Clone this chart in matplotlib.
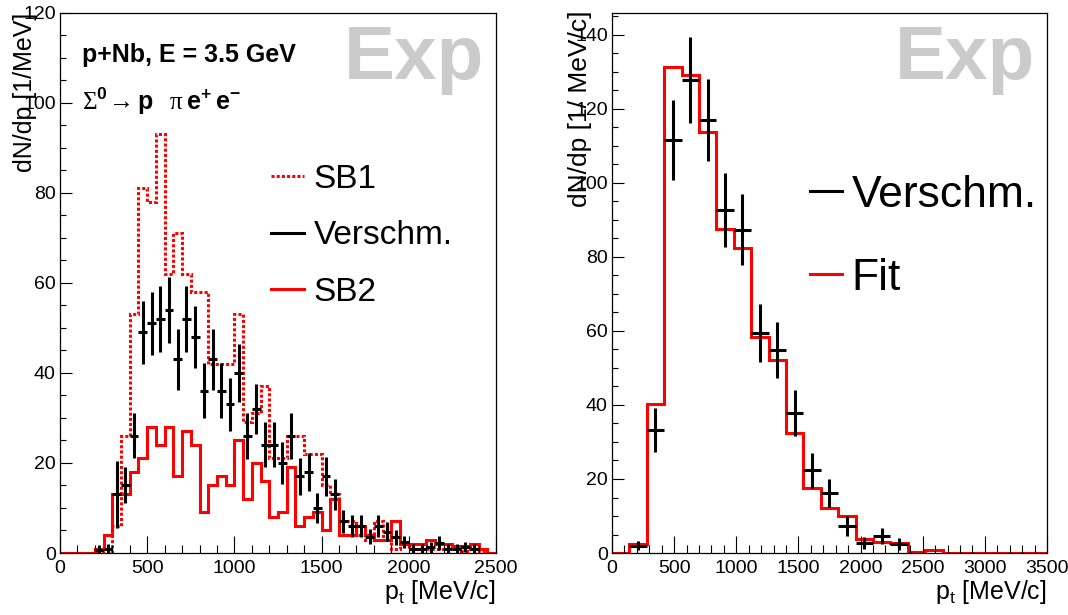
import numpy as np
import matplotlib.pyplot as plt
from matplotlib.ticker import MultipleLocator

plt.rcParams['font.family'] = ['Liberation Sans', 'DejaVu Sans']
plt.rcParams['mathtext.fontset'] = 'custom'
plt.rcParams['mathtext.rm'] = 'Liberation Serif'
plt.rcParams['mathtext.bf'] = 'Liberation Sans:bold'
plt.rcParams['mathtext.sf'] = 'Liberation Sans'

# left panel: 50 MeV bins from 0 to 2500
left_edges = np.arange(0, 2501, 50)
sb1 = [0, 0, 0, 0, 0, 0, 6, 26, 53, 81, 78, 93, 62, 71, 62, 58, 58, 42, 42, 42,
       53, 29, 31, 37, 21, 21, 26, 26, 22, 22, 15, 13, 7, 7, 4, 3, 7, 3, 1, 2,
       1, 1, 1, 1, 1, 1, 0.5, 1, 0.5, 0]
sb2 = [0, 0, 0, 0, 1, 4, 13, 13, 18, 21, 28, 24, 28, 17, 27, 24, 9, 15, 17, 15,
       25, 12, 20, 16, 8, 9, 19, 6, 8, 9, 5, 12, 4, 4, 6, 4, 3, 3, 7, 2,
       2, 2, 3, 2, 2, 1.5, 1.5, 2, 1, 0]
nan = np.nan
versch_left = [nan, nan, nan, nan, 0.7, 0.9, 13, 15, 26, 49, 51, 52, 54, 43, 52, 48, 36, 43, 36, 33,
               40, 26, 32, 24, 24, 20, 26, 17, 18, 10, 17, 13, 7, 6, 6, 3.6, 6, 4.7, 3.5, 2.5,
               1, 1, 1.3, 2.2, 1, 1, 1.3, 1, nan, nan]
versch_left_err = [0, 0, 0, 0, 1, 1, 7.5, 4, 5, 7, 7, 7.3, 7.4, 6.7, 7.3, 6.9, 6.1, 6.7, 6.1, 5.9,
                   6.4, 5.1, 5.6, 5, 5, 4.6, 5.1, 4.1, 4.3, 3.3, 4.3, 3.5, 2.6, 2.4, 2.4, 1.7, 2.5, 2.1, 1.7, 1.3,
                   1, 1, 1.2, 1.5, 1, 1, 1.1, 1, 0, 0]

# right panel: 140 MeV bins from 0 to 3500
right_edges = np.arange(0, 3501, 140)
fit = [0, 2.5, 40.4, 131.4, 129.2, 113.8, 87.5, 82.3, 58.3, 52.2, 32.4, 17.5, 12.1, 10.0,
       3.7, 3.1, 2.6, 0.4, 0.8, 0, 0, 0, 0, 0, 0]
versch_right = [nan, 2.0, 33.2, 111.6, 127.8, 117, 92.7, 87.3, 59.4, 54.9, 37.8, 22.4, 16.1, 7.4,
                2.6, 4.6, 2.5, nan, nan, nan, nan, nan, nan, nan, nan]
versch_right_err = [0, 1.2, 5.9, 10.8, 11.6, 11, 9.9, 9.6, 7.9, 7.5, 6.3, 4.7, 3.8, 2.7,
                    1.6, 2.2, 1.6, 0, 0, 0, 0, 0, 0, 0, 0]

RED = '#ff0000'
lw = 2.2

fig = plt.figure(figsize=(10.68, 6.15), dpi=100)
ax1 = fig.add_axes([0.0562, 0.1008, 0.4082, 0.8785])
ax2 = fig.add_axes([0.5730, 0.1008, 0.4073, 0.8785])


def style_axes(ax, xmax, ymax, ymajor):
    ax.set_xlim(0, xmax)
    ax.set_ylim(0, ymax)
    ax.xaxis.set_major_locator(MultipleLocator(500))
    ax.xaxis.set_minor_locator(MultipleLocator(100))
    ax.yaxis.set_major_locator(MultipleLocator(ymajor))
    ax.yaxis.set_minor_locator(MultipleLocator(5))
    ax.tick_params(axis='both', which='both', direction='in', top=False, right=False,
                   labelsize=14, width=0.8)
    ax.tick_params(axis='x', which='major', length=12, pad=5)
    ax.tick_params(axis='x', which='minor', length=6)
    ax.tick_params(axis='y', which='major', length=8.5, pad=3)
    ax.tick_params(axis='y', which='minor', length=4.5)
    for s in ax.spines.values():
        s.set_linewidth(0.9)
    ax.text(1.0, -0.085, r'p$_{\mathsf{t}}$ [MeV/c]', transform=ax.transAxes,
            ha='right', va='baseline', fontsize=18)
    ax.text(0.973, 0.877, 'Exp', transform=ax.transAxes, ha='right', va='baseline',
            fontsize=55, fontweight='bold', color='#cbcbcb')


# ---- left panel
style_axes(ax1, 2500, 120, 20)
centers_l = (left_edges[:-1] + left_edges[1:]) / 2
ax1.stairs(sb1, left_edges, color=RED, lw=lw, linestyle=(0, (1, 0.7)))
ax1.stairs(sb2, left_edges, color=RED, lw=lw)
ax1.errorbar(centers_l, versch_left, xerr=25, yerr=versch_left_err, fmt='none',
             ecolor='black', elinewidth=2.2)
ax1.plot([], [], color=RED, lw=lw, linestyle=(0, (1, 0.7)), label='SB1')
ax1.plot([], [], color='black', lw=lw, label='Verschm.')
ax1.plot([], [], color=RED, lw=lw, label='SB2')
ax1.legend(loc='upper left', bbox_to_anchor=(0.483, 0.72), frameon=False, fontsize=24,
           handlelength=1.0, handletextpad=0.3, labelspacing=0.76, borderpad=0,
           borderaxespad=0)
ax1.text(-0.08, 1.0, 'dN/dp [1/MeV]', transform=ax1.transAxes, rotation=90,
         ha='center', va='top', fontsize=18)
ax1.text(0.05, 0.908, 'p+Nb, E = 3.5 GeV', transform=ax1.transAxes, ha='left',
         va='baseline', fontsize=18, fontweight='bold')
ax1.text(0.05, 0.82, r'$\mathrm{\Sigma}^{\mathbf{0}}\!\rightarrow\mathbf{p}\ \ \mathrm{\pi}\,\mathbf{e}^{\mathbf{+}}\,\mathbf{e}^{\mathbf{-}}$',
         transform=ax1.transAxes, ha='left', va='baseline', fontsize=18)

# ---- right panel
style_axes(ax2, 3500, 146, 20)
centers_r = (right_edges[:-1] + right_edges[1:]) / 2
ax2.stairs(fit, right_edges, color=RED, lw=lw)
ax2.errorbar(centers_r, versch_right, xerr=70, yerr=versch_right_err, fmt='none',
             ecolor='black', elinewidth=2.2)
ax2.plot([], [], color='black', lw=lw, label='Verschm.')
ax2.plot([], [], color=RED, lw=lw, label='Fit')
ax2.legend(loc='upper left', bbox_to_anchor=(0.455, 0.70), frameon=False, fontsize=32,
           handlelength=0.72, handletextpad=0.22, labelspacing=0.94, borderpad=0,
           borderaxespad=0)
ax2.text(-0.074, 1.005, 'dN/dp [1/ MeV/c]', transform=ax2.transAxes, rotation=90,
         ha='center', va='top', fontsize=19)

fig.savefig('out.png', dpi=100)
